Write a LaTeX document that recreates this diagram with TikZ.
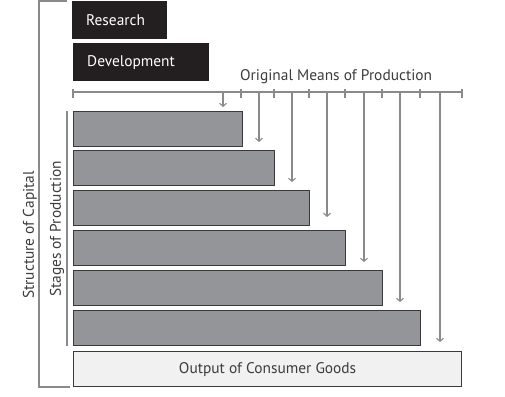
\documentclass[tikz,border=0pt]{standalone}
\usepackage{fontspec}
\setmainfont{PT Sans}
\usetikzlibrary{arrows.meta}
\definecolor{boxdark}{HTML}{231F20}
\definecolor{bargray}{HTML}{939598}
\definecolor{barline}{HTML}{3A3A3C}
\definecolor{outfill}{HTML}{F1F1F2}
\definecolor{rulegray}{HTML}{8A8A8C}
\definecolor{txtgray}{HTML}{3C3C3E}

\begin{document}
\begin{tikzpicture}[x=1pt,y=-1pt,
  font=\fontsize{15.4}{17}\selectfont,
  darkbox/.style={draw=none,fill=boxdark,text=white,anchor=north west,inner xsep=14pt,align=left,minimum height=38pt},
  stagebar/.style={draw=barline,line width=1.4pt,fill=bargray,anchor=north west,minimum height=35pt,inner sep=0pt},
  outbox/.style={draw=barline,line width=1.2pt,fill=outfill,text=txtgray,anchor=north west,minimum height=35pt,minimum width=388pt,inner sep=0pt},
  axisline/.style={draw=rulegray,line width=1.1pt},
  flowarrow/.style={draw=rulegray,line width=1.1pt,-{Straight Barb[length=3pt,width=7pt]}},
  bracket/.style={draw=rulegray,line width=1.2pt},
  sidelabel/.style={text=txtgray,rotate=90}]

\useasboundingbox (0,0) rectangle (505,396);

% research and development
\node[darkbox,text width=67pt] (research) at (72,1) {Research};
\node[darkbox,text width=108pt] (develop) at (73,43) {Development};

% axis of original means
\coordinate (axL) at (73,92);
\coordinate (axR) at (462,92);
\draw[axisline] (axL) -- (axR);
\node[text=txtgray,anchor=south west,inner sep=0pt] (means) at (240,84) {Original Means of Production};

\draw[axisline] (73,89) -- (73,98);
\draw[axisline] (241,89) -- (241,98);
\draw[axisline] (274,89) -- (274,98);
\draw[axisline] (309,89) -- (309,98);
\draw[axisline] (345,89) -- (345,98);
\draw[axisline] (382,89) -- (382,98);
\draw[axisline] (420,89) -- (420,98);
\draw[axisline] (462,89) -- (462,98);

% stages of production
\node[stagebar,minimum width=169pt] (stage1) at (73,111) {};
\node[stagebar,minimum width=201pt] (stage2) at (73,150) {};
\node[stagebar,minimum width=236pt] (stage3) at (73,190) {};
\node[stagebar,minimum width=272pt] (stage4) at (73,230) {};
\node[stagebar,minimum width=309pt] (stage5) at (73,270) {};
\node[stagebar,minimum width=347pt] (stage6) at (73,310) {};
\node[outbox] (output) at (73,351) {Output of Consumer Goods};

% inputs flowing down
\coordinate (in1) at (223,107);
\coordinate (in2) at (259,142);
\coordinate (in3) at (292,182);
\coordinate (in4) at (327,217);
\coordinate (in5) at (364,262);
\coordinate (in6) at (400,302);
\coordinate (in7) at (440,342);
\draw[flowarrow] (in1 |- axL) -- (in1);
\draw[flowarrow] (in2 |- axL) -- (in2);
\draw[flowarrow] (in3 |- axL) -- (in3);
\draw[flowarrow] (in4 |- axL) -- (in4);
\draw[flowarrow] (in5 |- axL) -- (in5);
\draw[flowarrow] (in6 |- axL) -- (in6);
\draw[flowarrow] (in7 |- axL) -- (in7);

% brackets
\draw[bracket] (67,1) -- (39,1) -- (39,387) -- (70,387);
\draw[bracket] (67,111) -- (67,346);
\node[sidelabel] (capital) at (30,235) {Structure of Capital};
\node[sidelabel] (stages) at (57,229) {Stages of Production};

\end{tikzpicture}
\end{document}
